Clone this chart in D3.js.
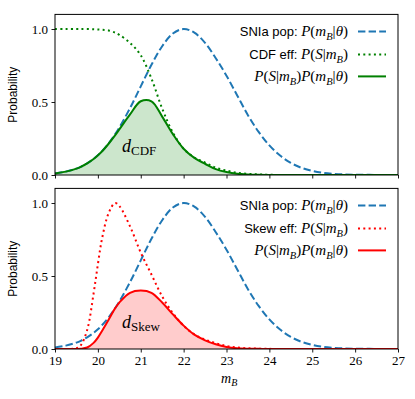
<!DOCTYPE html>
<html><head><meta charset="utf-8">
<script src="https://cdn.jsdelivr.net/npm/d3@7"></script>
<style>
html,body{margin:0;padding:0;background:#fff;}
svg{display:block;}
</style></head>
<body>
<svg id="chart" width="415" height="399"></svg>
<script>
// ---- data ----
const mB = [19, 19.25, 19.5, 19.6, 19.75, 19.9, 20, 20.1, 20.25, 20.4, 20.5, 20.75, 21, 21.25, 21.5, 21.75, 22, 22.25, 22.5, 22.75, 23, 23.25, 23.5, 23.75, 24, 24.25, 24.5, 24.75, 25, 25.25, 25.5, 25.75, 26, 26.5, 27];
const snPop = [0.011, 0.023, 0.044, 0.056, 0.080, 0.110, 0.135, 0.164, 0.216, 0.278, 0.325, 0.458, 0.607, 0.755, 0.882, 0.969, 1.0, 0.975, 0.905, 0.80, 0.68, 0.545, 0.41, 0.295, 0.203, 0.133, 0.083, 0.049, 0.028, 0.015, 0.008, 0.004, 0.002, 0.0005, 0];
const cdfEff = [1, 1, 1, 1, 1, 0.998, 0.997, 0.995, 0.99, 0.975, 0.96, 0.905, 0.82, 0.66, 0.455, 0.29, 0.18, 0.12, 0.085, 0.05, 0.03, 0.015, 0.008, 0.004, 0.002, 0, 0, 0, 0, 0, 0, 0, 0, 0, 0];
const cdfProd = [0.011, 0.023, 0.044, 0.056, 0.080, 0.110, 0.135, 0.163, 0.214, 0.271, 0.312, 0.415, 0.505, 0.505, 0.40, 0.28, 0.18, 0.117, 0.077, 0.04, 0.02, 0.008, 0.003, 0.001, 0.0004, 0, 0, 0, 0, 0, 0, 0, 0, 0, 0];
const skewEff = [0, 0, 0.005, 0.025, 0.13, 0.38, 0.58, 0.76, 0.93, 1.0, 0.98, 0.84, 0.66, 0.51, 0.36, 0.245, 0.16, 0.10, 0.065, 0.04, 0.02, 0.01, 0.005, 0.002, 0.001, 0, 0, 0, 0, 0, 0, 0, 0, 0, 0];
const skewProd = [0, 0, 0.0002, 0.0014, 0.010, 0.042, 0.078, 0.125, 0.20, 0.278, 0.318, 0.385, 0.40, 0.385, 0.318, 0.237, 0.16, 0.098, 0.059, 0.032, 0.014, 0.005, 0.002, 0.001, 0, 0, 0, 0, 0, 0, 0, 0, 0, 0, 0];
const xTicks = [19, 20, 21, 22, 23, 24, 25, 26, 27];
const yTicks = [0, 0.5, 1.0];
const yTickLabels = ["0.0", "0.5", "1.0"];

// ---- layout ----
const svg = d3.select("#chart");
const L = 55, R = 398;
const panels = [
  {top: 14.4, bottom: 175, eff: cdfEff, prod: cdfProd, color: "#008000", fill: "rgba(0,128,0,0.2)",
   effName: "CDF eff: ", dSub: "CDF", showX: false},
  {top: 188.4, bottom: 349, eff: skewEff, prod: skewProd, color: "#ff0000", fill: "rgba(255,0,0,0.2)",
   effName: "Skew eff: ", dSub: "Skew", showX: true}
];
const x = d3.scaleLinear().domain([19, 27]).range([L, R]);
const serif = "'Liberation Serif', 'DejaVu Serif', serif";
const sans = "'Liberation Sans', 'DejaVu Sans', sans-serif";

function mathP(t, parts) {
  parts.forEach(p => {
    const ts = t.append("tspan").attr("font-family", serif).text(p[0]);
    if (p[1] === "i") ts.attr("font-style", "italic");
    if (p[1] === "sub") {
      ts.attr("font-style", "italic").attr("font-size", "10.5px").attr("dy", 3.5);
    }
    if (p[1] === "after") ts.attr("dy", -3.5);
  });
}

panels.forEach((p, idx) => {
  const y = d3.scaleLinear().domain([0, 1.1]).range([p.bottom, p.top]);
  const g = svg.append("g");
  const clipId = "clip" + idx;
  svg.append("clipPath").attr("id", clipId).append("rect")
    .attr("x", L).attr("y", p.top).attr("width", R - L).attr("height", p.bottom - p.top);
  const plot = g.append("g").attr("clip-path", `url(#${clipId})`);
  const curve = d3.curveCatmullRom.alpha(0.5);
  const line = arr => d3.line().x((d, i) => x(mB[i])).y(d => y(d)).curve(curve)(arr);
  const area = d3.area().x((d, i) => x(mB[i])).y0(y(0)).y1(d => y(d)).curve(curve);

  plot.append("path").attr("d", area(p.prod)).attr("fill", p.fill).attr("stroke", "none");
  plot.append("path").attr("d", line(snPop)).attr("fill", "none").attr("stroke", "#1f77b4")
    .attr("stroke-width", 2).attr("stroke-dasharray", "7.4,3.2");
  plot.append("path").attr("d", line(p.eff)).attr("fill", "none").attr("stroke", p.color)
    .attr("stroke-width", 2).attr("stroke-dasharray", "2,3.3");
  plot.append("path").attr("d", line(p.prod)).attr("fill", "none").attr("stroke", p.color)
    .attr("stroke-width", 2);

  // axes
  const xa = d3.axisBottom(x).tickValues(xTicks).tickSize(3.5).tickPadding(3.5)
    .tickFormat(p.showX ? d3.format("d") : () => "");
  const gx = g.append("g").attr("transform", `translate(0,${p.bottom})`).call(xa);
  const ya = d3.axisLeft(y).tickValues(yTicks).tickSize(3.5).tickPadding(3.5)
    .tickFormat((d, i) => yTickLabels[i]);
  const gy = g.append("g").attr("transform", `translate(${L},0)`).call(ya);
  [gx, gy].forEach(a => {
    a.select(".domain").remove();
    a.selectAll(".tick line").attr("stroke", "#000").attr("stroke-width", 0.9);
    a.selectAll(".tick text").attr("font-family", serif).attr("font-size", "13px").attr("fill", "#000");
  });
  g.append("rect").attr("x", L).attr("y", p.top).attr("width", R - L).attr("height", p.bottom - p.top)
    .attr("fill", "none").attr("stroke", "#000").attr("stroke-width", 1);

  // y label
  g.append("text").attr("transform", `translate(17,${(p.top + p.bottom) / 2}) rotate(-90)`)
    .attr("text-anchor", "middle").attr("font-family", sans).attr("font-size", "12px").text("Probability");

  // legend
  const rows = [
    {y: p.top + 17, name: "SNIa pop: ", math: [["P", "i"], ["(", "r"], ["m", "i"], ["B", "sub"], ["|", "after"], ["θ", "i"], [")", "r"]],
     stroke: "#1f77b4", dash: "7.4,3.2"},
    {y: p.top + 40, name: p.effName, math: [["P", "i"], ["(", "r"], ["S", "i"], ["|", "r"], ["m", "i"], ["B", "sub"], [")", "after"]],
     stroke: p.color, dash: "2,3.3"},
    {y: p.top + 62, name: "", math: [["P", "i"], ["(", "r"], ["S", "i"], ["|", "r"], ["m", "i"], ["B", "sub"], [")", "after"], ["P", "i"], ["(", "r"], ["m", "i"], ["B", "sub"], ["|", "after"], ["θ", "i"], [")", "r"]],
     stroke: p.color, dash: null}
  ];
  rows.forEach(r => {
    const t = g.append("text").attr("x", 348).attr("y", r.y + 5).attr("text-anchor", "end")
      .attr("font-size", "15px").attr("fill", "#000");
    if (r.name) t.append("tspan").attr("font-family", sans).attr("font-size", "13px").text(r.name);
    mathP(t, r.math);
    const ln = g.append("line").attr("x1", 358).attr("x2", 386).attr("y1", r.y).attr("y2", r.y)
      .attr("stroke", r.stroke).attr("stroke-width", 2);
    if (r.dash) ln.attr("stroke-dasharray", r.dash);
  });

  // d label
  const dl = g.append("text").attr("x", 122).attr("y", y(0) - (idx === 0 ? 23 : 21)).attr("fill", "#000");
  dl.append("tspan").attr("font-family", serif).attr("font-style", "italic").attr("font-size", "18px").text("d");
  dl.append("tspan").attr("font-family", serif).attr("font-size", "13px").attr("dy", 3).text(p.dSub);
});

// x label
const xl = svg.append("text").attr("x", 221).attr("y", 383).attr("fill", "#000");
xl.append("tspan").attr("font-family", serif).attr("font-style", "italic").attr("font-size", "14px").text("m");
xl.append("tspan").attr("font-family", serif).attr("font-style", "italic").attr("font-size", "10px").attr("dy", 3).text("B");
</script>
</body></html>
